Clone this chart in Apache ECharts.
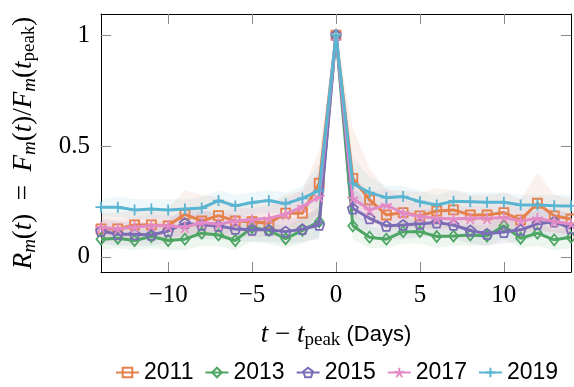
<!DOCTYPE html>
<html>
<head>
<meta charset="utf-8">
<script src="https://cdn.jsdelivr.net/npm/echarts@6/dist/echarts.min.js"></script>
<style>
  html, body { margin: 0; padding: 0; background: #fff; }
  #chart { width: 574px; height: 387px; }
</style>
</head>
<body>
<div id="chart"></div>
<script>
// days relative to peak
var days = [-14,-13,-12,-11,-10,-9,-8,-7,-6,-5,-4,-3,-2,-1,0,1,2,3,4,5,6,7,8,9,10,11,12,13,14];
var years = ['2011', '2013', '2015', '2017', '2019'];
var xTicks = [-10, -5, 0, 5, 10];
var yTicks = [0, 0.5, 1];

// mean ratio per year
var r2011 = [0.126,0.126,0.144,0.144,0.14,0.192,0.162,0.186,0.162,0.159,0.152,0.197,0.197,0.332,1,0.354,0.257,0.189,0.2,0.185,0.207,0.212,0.189,0.189,0.2,0.167,0.242,0.185,0.171];
var r2013 = [0.08,0.084,0.074,0.092,0.074,0.08,0.107,0.099,0.074,0.132,0.12,0.082,0.12,0.159,1,0.14,0.089,0.08,0.114,0.114,0.092,0.094,0.099,0.094,0.14,0.084,0.107,0.077,0.089];
var r2015 = [0.117,0.102,0.102,0.099,0.117,0.152,0.144,0.14,0.126,0.122,0.122,0.114,0.125,0.144,1,0.218,0.174,0.14,0.144,0.149,0.155,0.144,0.119,0.104,0.112,0.122,0.149,0.159,0.129];
var r2017 = [0.134,0.126,0.135,0.14,0.14,0.134,0.155,0.147,0.162,0.167,0.174,0.192,0.227,0.272,1,0.264,0.212,0.234,0.197,0.182,0.174,0.171,0.174,0.174,0.177,0.162,0.174,0.159,0.149];
var r2019 = [0.224,0.224,0.212,0.216,0.212,0.216,0.22,0.254,0.23,0.245,0.254,0.24,0.264,0.30,1,0.33,0.29,0.267,0.272,0.249,0.234,0.251,0.249,0.246,0.246,0.234,0.234,0.231,0.23];

// shaded spread (low / high) per year
var lo2011 = [0.07,0.07,0.08,0.08,0.08,0.1,0.09,0.1,0.09,0.09,0.09,0.1,0.11,0.2,1,0.22,0.16,0.12,0.13,0.12,0.13,0.13,0.12,0.12,0.12,0.1,0.12,0.11,0.1];
var hi2011 = [0.2,0.2,0.21,0.21,0.22,0.3,0.28,0.27,0.24,0.24,0.24,0.28,0.3,0.48,1,0.58,0.4,0.3,0.3,0.29,0.31,0.3,0.28,0.28,0.29,0.26,0.38,0.28,0.26];
var lo2013 = [0.03,0.04,0.03,0.04,0.03,0.03,0.05,0.05,0.03,0.07,0.06,0.04,0.06,0.09,1,0.08,0.04,0.04,0.06,0.06,0.04,0.05,0.05,0.05,0.08,0.04,0.05,0.03,0.04];
var hi2013 = [0.13,0.13,0.12,0.14,0.12,0.13,0.16,0.15,0.12,0.19,0.17,0.13,0.18,0.23,1,0.21,0.14,0.12,0.17,0.17,0.14,0.14,0.15,0.14,0.2,0.13,0.16,0.12,0.14];
var lo2015 = [0.06,0.05,0.05,0.05,0.06,0.09,0.08,0.08,0.07,0.07,0.07,0.06,0.07,0.08,1,0.14,0.11,0.08,0.08,0.09,0.09,0.08,0.06,0.05,0.06,0.07,0.09,0.1,0.07];
var hi2015 = [0.17,0.16,0.16,0.15,0.17,0.22,0.21,0.2,0.19,0.18,0.18,0.17,0.18,0.22,1,0.31,0.25,0.2,0.21,0.21,0.22,0.21,0.18,0.16,0.17,0.18,0.21,0.22,0.19];
var lo2017 = [0.09,0.08,0.09,0.09,0.09,0.09,0.1,0.1,0.11,0.11,0.12,0.13,0.16,0.19,1,0.18,0.15,0.16,0.14,0.13,0.12,0.12,0.12,0.12,0.12,0.11,0.12,0.11,0.1];
var hi2017 = [0.18,0.17,0.18,0.19,0.19,0.18,0.21,0.2,0.22,0.22,0.23,0.26,0.3,0.38,1,0.37,0.29,0.31,0.26,0.24,0.23,0.23,0.23,0.23,0.24,0.22,0.23,0.21,0.2];
var lo2019 = [0.18,0.18,0.17,0.17,0.17,0.17,0.17,0.2,0.18,0.19,0.2,0.19,0.21,0.22,1,0.24,0.22,0.21,0.21,0.2,0.19,0.2,0.2,0.19,0.19,0.18,0.18,0.18,0.18];
var hi2019 = [0.26,0.27,0.26,0.26,0.26,0.26,0.27,0.3,0.28,0.29,0.3,0.29,0.32,0.42,1,0.45,0.36,0.32,0.32,0.3,0.28,0.3,0.29,0.29,0.29,0.28,0.28,0.28,0.28];

var means = [r2011, r2013, r2015, r2017, r2019];
var lows = [lo2011, lo2013, lo2015, lo2017, lo2019];
var highs = [hi2011, hi2013, hi2015, hi2017, hi2019];
var colors = ['#e5814b', '#4ea664', '#7a6db5', '#e38bc6', '#5ab5d2'];
var symbols = [
    'rect',
    'diamond',
    'path://M0,-1L0.951,-0.309L0.588,0.809L-0.588,0.809L-0.951,-0.309Z',
    'path://M0,0L0,-1M0,0L0.951,-0.309M0,0L0.588,0.809M0,0L-0.588,0.809M0,0L-0.951,-0.309',
    'path://M-1,0L1,0M0,-1L0,1'
];
var symbolSizes = [9, [9, 11], 10, 11, 11];

var serif = "'Liberation Serif', 'DejaVu Serif', serif";
var sans = "'Liberation Sans', Arial, sans-serif";

function pairs(vals) {
    return days.map(function (d, i) { return [d, vals[i]]; });
}

var series = [];
// bands first so the lines sit on top: one polygon per year (upper edge, then lower edge back)
years.forEach(function (y, k) {
    series.push({
        name: y + ' band',
        type: 'custom',
        data: days.map(function (d, i) { return [d, lows[k][i], highs[k][i]]; }),
        encode: {x: 0, y: [1, 2]},
        silent: true,
        z: 1,
        renderItem: function (params, api) {
            if (params.dataIndex !== 0) return null;
            var top = days.map(function (d, i) { return api.coord([d, highs[k][i]]); });
            var bottom = days.map(function (d, i) { return api.coord([d, lows[k][i]]); }).reverse();
            return {
                type: 'polygon',
                shape: {points: top.concat(bottom)},
                style: {fill: colors[k], opacity: 0.1}
            };
        },
        clip: true
    });
});
years.forEach(function (y, k) {
    series.push({
        name: y,
        type: 'line',
        data: pairs(means[k]),
        symbol: symbols[k],
        symbolSize: symbolSizes[k],
        showAllSymbol: true,
        lineStyle: {color: colors[k], width: 3},
        itemStyle: {color: 'rgba(0,0,0,0)', borderColor: colors[k], borderWidth: 1.8},
        z: 3 + k
    });
});

var tickStyle = {show: true, inside: true, length: 10, lineStyle: {color: '#8a8a8a', width: 1}};
var lineStyle = {show: true, onZero: false, lineStyle: {color: '#000', width: 1}};

var option = {
    animation: false,
    grid: {left: 101, right: 3, top: 14, height: 258, outerBoundsMode: 'none'},
    legend: {
        data: years,
        left: 110,
        top: 356,
        itemWidth: 23,
        itemHeight: 12,
        itemGap: 11,
        textStyle: {fontFamily: sans, fontSize: 23, color: '#000'}
    },
    xAxis: [{
        type: 'value',
        min: -14,
        max: 14,
        axisLine: lineStyle,
        axisTick: Object.assign({customValues: xTicks}, tickStyle),
        axisLabel: {
            customValues: xTicks,
            margin: 11,
            fontFamily: serif,
            fontSize: 25,
            color: '#000',
            formatter: function (v) { return String(v).replace('-', '\u2212'); }
        },
        splitLine: {show: false},
        name: '{i|t}{r| \u2212 }{i|t}{s|peak}{d| (Days)}',
        nameLocation: 'middle',
        nameGap: 48,
        nameTextStyle: {
            rich: {
                i: {fontFamily: serif, fontStyle: 'italic', fontSize: 27, lineHeight: 30},
                r: {fontFamily: serif, fontSize: 27, lineHeight: 30},
                s: {fontFamily: serif, fontSize: 19, lineHeight: 12, verticalAlign: 'bottom'},
                d: {fontFamily: sans, fontSize: 22, lineHeight: 30}
            }
        }
    }, {
        type: 'value',
        position: 'top',
        min: -14,
        max: 14,
        axisLine: lineStyle,
        axisTick: Object.assign({customValues: xTicks}, tickStyle),
        axisLabel: {show: false},
        splitLine: {show: false}
    }],
    yAxis: [{
        type: 'value',
        min: -0.068,
        max: 1.095,
        axisLine: lineStyle,
        axisTick: Object.assign({customValues: yTicks}, tickStyle),
        axisLabel: {
            customValues: yTicks,
            margin: 11,
            fontFamily: serif,
            fontSize: 25,
            color: '#000'
        },
        splitLine: {show: false},
        name: '{i|R}{si|m}{r|(}{i|t}{r|)  =  }{i|F}{si|m}{r|(}{i|t}{r|)/}{i|F}{si|m}{r|(}{i|t}{s|peak}{r|)}',
        nameLocation: 'middle',
        nameRotate: 90,
        nameGap: 62,
        nameTextStyle: {
            rich: {
                i: {fontFamily: serif, fontStyle: 'italic', fontSize: 27, lineHeight: 30},
                r: {fontFamily: serif, fontSize: 27, lineHeight: 30},
                si: {fontFamily: serif, fontStyle: 'italic', fontSize: 19, lineHeight: 12, verticalAlign: 'bottom'},
                s: {fontFamily: serif, fontSize: 19, lineHeight: 12, verticalAlign: 'bottom'}
            }
        }
    }, {
        type: 'value',
        position: 'right',
        min: -0.068,
        max: 1.095,
        axisLine: lineStyle,
        axisTick: Object.assign({customValues: yTicks}, tickStyle),
        axisLabel: {show: false},
        splitLine: {show: false}
    }],
    series: series
};

var chart = echarts.init(document.getElementById('chart'));
chart.setOption(option);
</script>
</body>
</html>
